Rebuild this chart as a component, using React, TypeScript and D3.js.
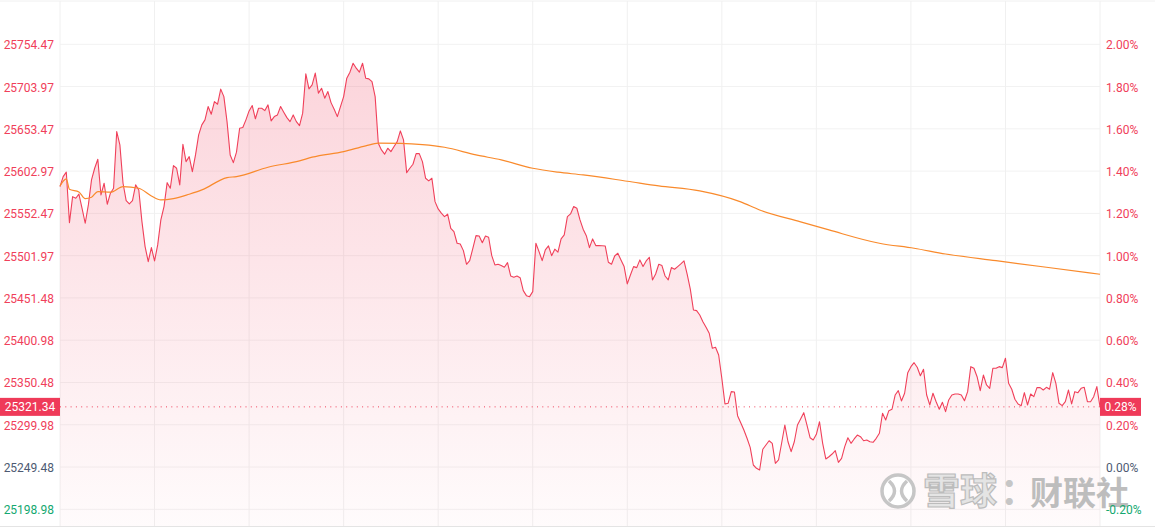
import React from "react";
import * as d3 from "d3";

const W = 1155;
const H = 528;

// Hang Seng index intraday, one value per trading minute (09:30-12:00, 13:00-16:00)
const prices: number[] = [
  25584.5, 25596.4, 25601.7, 25541.4, 25572.5, 25570.6, 25575.4, 25558.6, 25540.7, 25562.6,
  25592.5, 25606.4, 25617.2, 25574.5, 25588.5, 25563.4, 25576.6, 25582.5, 25650.2, 25634.3,
  25588.5, 25567.7, 25563.8, 25567.7, 25586.5, 25580.5, 25542.6, 25512.8, 25494.8, 25511.6,
  25495.7, 25514.8, 25544.7, 25560.6, 25589.2, 25582.5, 25609.6, 25606.4, 25586.5, 25635.1,
  25614.3, 25620.3, 25602.4, 25622.3, 25646.2, 25658.2, 25664.2, 25680.1, 25671.0, 25686.0,
  25682.9, 25700.9, 25692.0, 25662.1, 25622.3, 25613.1, 25625.6, 25654.2, 25655.0, 25664.2,
  25674.9, 25681.3, 25665.5, 25678.1, 25678.1, 25675.3, 25682.1, 25663.0, 25668.1, 25670.1,
  25680.1, 25673.4, 25666.9, 25662.1, 25670.1, 25662.1, 25657.4, 25672.2, 25719.1, 25701.2,
  25706.0, 25720.0, 25696.1, 25702.0, 25690.1, 25698.0, 25684.8, 25676.9, 25668.1, 25680.1,
  25692.0, 25714.0, 25721.2, 25731.9, 25725.9, 25721.2, 25731.9, 25714.0, 25713.2, 25709.9,
  25692.0, 25636.3, 25628.3, 25623.2, 25630.3, 25626.3, 25632.3, 25638.2, 25651.0, 25640.3,
  25601.2, 25606.4, 25611.2, 25623.9, 25623.9, 25614.3, 25594.5, 25591.3, 25594.5, 25566.5,
  25557.8, 25552.7, 25548.6, 25551.5, 25534.7, 25530.7, 25516.8, 25516.0, 25508.0, 25491.7,
  25496.0, 25510.8, 25525.9, 25525.5, 25517.5, 25525.5, 25524.0, 25502.0, 25490.9, 25491.7,
  25490.1, 25488.1, 25493.6, 25477.7, 25476.2, 25477.7, 25475.7, 25460.2, 25454.2, 25453.0,
  25459.0, 25516.8, 25506.8, 25496.0, 25508.8, 25513.6, 25502.0, 25509.7, 25506.1, 25522.0,
  25526.7, 25548.6, 25551.8, 25560.6, 25558.6, 25544.7, 25533.6, 25525.9, 25511.6, 25522.0,
  25514.0, 25514.0, 25513.9, 25513.6, 25494.1, 25491.7, 25501.6, 25504.9, 25496.9, 25488.9,
  25468.2, 25478.9, 25488.9, 25487.7, 25496.9, 25488.9, 25495.7, 25500.1, 25473.0, 25480.1,
  25491.7, 25490.1, 25477.7, 25473.0, 25487.7, 25485.8, 25488.9, 25492.1, 25495.7, 25480.0,
  25462.0, 25437.1, 25436.3, 25431.1, 25423.1, 25416.4, 25409.3, 25391.3, 25392.5, 25383.3,
  25355.5, 25324.8, 25325.6, 25339.5, 25339.1, 25310.8, 25302.4, 25293.7, 25283.8, 25273.0,
  25251.9, 25247.9, 25245.9, 25270.7, 25275.8, 25280.9, 25277.8, 25253.9, 25257.9, 25278.5,
  25299.7, 25279.7, 25267.8, 25279.7, 25299.7, 25306.9, 25314.4, 25299.7, 25284.5, 25281.8,
  25288.6, 25303.6, 25277.8, 25259.1, 25261.8, 25265.0, 25269.0, 25255.1, 25259.9, 25273.8,
  25284.5, 25277.8, 25283.0, 25287.7, 25285.7, 25280.9, 25281.8, 25279.7, 25279.0, 25283.8,
  25289.8, 25313.7, 25305.7, 25316.8, 25318.5, 25335.5, 25340.7, 25328.4, 25337.6, 25362.2,
  25369.4, 25374.1, 25368.6, 25358.6, 25366.3, 25335.5, 25323.6, 25337.6, 25327.5, 25318.5,
  25326.8, 25315.6, 25329.6, 25335.5, 25336.7, 25336.7, 25335.5, 25328.7, 25339.5, 25369.4,
  25367.4, 25357.4, 25340.7, 25359.4, 25347.5, 25343.5, 25367.4, 25367.4, 25369.4, 25368.2,
  25379.4, 25349.5, 25342.4, 25330.4, 25324.8, 25322.8, 25338.3, 25323.6, 25336.7, 25333.5,
  25344.3, 25344.3, 25341.5, 25344.7, 25342.4, 25362.2, 25349.5, 25325.6, 25322.8, 25327.5,
  25341.5, 25324.8, 25339.5, 25338.3, 25343.5, 25344.7, 25327.5, 25327.5, 25333.5, 25345.5,
  25321.34,
];

// average price line, read at these minutes
const avgMinutes: number[] = [
  0, 2, 3, 6, 8, 10, 12, 16, 20, 25, 29, 32, 36, 41, 45, 53, 56, 66, 76, 80, 90, 97, 101, 108,
  115, 122, 132, 140, 150, 158, 166, 180, 190, 203, 216, 222, 235, 244, 260, 271, 281, 297, 313, 330,
];
const avgPrices: number[] = [
  25585.3, 25593.7, 25581.4, 25578.1, 25570.1, 25571.8, 25578.5, 25577.8, 25584.5, 25582.5,
  25573.3, 25568.6, 25570.1, 25575.4, 25580.5, 25595.2, 25596.4, 25607.6, 25615.2, 25619.6,
  25626.3, 25633.1, 25636.3, 25636.0, 25634.6, 25631.5, 25622.3, 25616.4, 25606.4, 25601.7,
  25598.4, 25590.9, 25585.3, 25579.3, 25566.2, 25556.6, 25542.3, 25532.7, 25516.8, 25510.8,
  25504.0, 25496.0, 25488.1, 25479.8,
];

const prevClose = 25249.48;
const lastPrice = 25321.34;
const lastPctLabel = "0.28%";

const priceTicks: number[] = [
  25754.47, 25703.97, 25653.47, 25602.97, 25552.47, 25501.97, 25451.48, 25400.98, 25350.48,
  25299.98, 25249.48, 25198.98,
];
const pctTicks: string[] = [
  "2.00%", "1.80%", "1.60%", "1.40%", "1.20%", "1.00%", "0.80%", "0.60%", "0.40%", "0.20%",
  "0.00%", "-0.20%",
];
const timeGridMinutes: number[] = [0, 30, 60, 90, 120, 150, 180, 210, 240, 270, 300, 330];

const RED = "#f0405a";
const GREEN = "#14a870";
const GRAY = "#4d5a72";

export default function App() {
  const left = 60;
  const right = 1100;
  const top = 1;
  const bottom = 526;

  const x = d3.scaleLinear().domain([0, 330]).range([left, right]);
  const y = d3
    .scaleLinear()
    .domain([priceTicks[priceTicks.length - 1], priceTicks[0]])
    .range([509.3, 44.3]);

  const line = d3
    .line<number>()
    .x((_, i) => x(i))
    .y((d) => y(d));
  const area = d3
    .area<number>()
    .x((_, i) => x(i))
    .y0(bottom)
    .y1((d) => y(d));
  const avgLine = d3
    .line<number>()
    .x((_, i) => x(avgMinutes[i]))
    .y((d) => y(d))
    .curve(d3.curveMonotoneX);

  const colorFor = (v: number) =>
    Math.abs(v - prevClose) < 0.01 ? GRAY : v > prevClose ? RED : GREEN;

  const yLast = y(lastPrice);
  const font = "Roboto, Arial, sans-serif";
  const cjk = "'Noto Sans CJK SC', sans-serif";

  return (
    <svg
      width={W}
      height={H}
      style={{ position: "absolute", left: 0, top: 0, background: "#fff" }}
    >
      <defs>
        <linearGradient id="areaGrad" gradientUnits="userSpaceOnUse" x1="0" y1="60" x2="0" y2={bottom}>
          <stop offset="0" stopColor="#f03c5a" stopOpacity={0.22} />
          <stop offset="1" stopColor="#f03c5a" stopOpacity={0.02} />
        </linearGradient>
      </defs>

      {/* grid */}
      <line x1={0} x2={W} y1={top} y2={top} stroke="#f0f0f0" />
      {priceTicks.map((t) => (
        <line key={"h" + t} x1={left} x2={right} y1={y(t)} y2={y(t)} stroke="#f2f2f2" />
      ))}
      {timeGridMinutes.map((m) => (
        <line key={"v" + m} x1={x(m)} x2={x(m)} y1={top} y2={bottom} stroke="#f0f0f0" />
      ))}
      <line x1={0} x2={W} y1={bottom + 0.5} y2={bottom + 0.5} stroke="#e4e4e4" />

      {/* price area and line */}
      <path d={area(prices) || ""} fill="url(#areaGrad)" />
      <path d={line(prices) || ""} fill="none" stroke={RED} strokeWidth={1.1} strokeLinejoin="round" />
      <path d={avgLine(avgPrices) || ""} fill="none" stroke="#f98a2c" strokeWidth={1.2} />

      {/* last price dotted line */}
      <line
        x1={left}
        x2={right}
        y1={yLast}
        y2={yLast}
        stroke={RED}
        strokeWidth={1}
        strokeDasharray="1 4.3"
      />

      {/* watermark */}
      <g>
        <circle cx={898} cy={491} r={16} fill="#fff" stroke="#c6c6c6" strokeWidth={3.5} />
        <path d="M889,481 Q900,491 889,501" fill="none" stroke="#c6c6c6" strokeWidth={3.5} />
        <path d="M907,481 Q896,491 907,501" fill="none" stroke="#c6c6c6" strokeWidth={3.5} />
        <text
          x={923}
          y={505}
          fontFamily={cjk}
          fontSize={37}
          fontWeight={700}
          fill="#e4e4e4"
          stroke="#bcbcbc"
          strokeWidth={1.2}
        >
          雪球
        </text>
        <text x={1000} y={505} fontFamily={cjk} fontSize={37} fontWeight={700} fill="#c6c6c6">
          ：
        </text>
        <text x={1030} y={505} fontFamily={cjk} fontSize={33} fontWeight={700} fill="#bdbdbd">
          财联社
        </text>
      </g>

      {/* left axis labels */}
      {priceTicks.map((t) => (
        <text
          key={"l" + t}
          x={54}
          y={y(t) + 1}
          textAnchor="end"
          dominantBaseline="central"
          fontFamily={font}
          fontSize={12}
          fill={colorFor(t)}
        >
          {t.toFixed(2)}
        </text>
      ))}
      {/* right axis labels */}
      {priceTicks.map((t, i) => (
        <text
          key={"r" + t}
          x={1106}
          y={y(t) + 1}
          textAnchor="start"
          dominantBaseline="central"
          fontFamily={font}
          fontSize={12}
          fill={colorFor(t)}
        >
          {pctTicks[i]}
        </text>
      ))}

      {/* last price tags */}
      <rect x={0} y={yLast - 9} width={left} height={18} fill="#ef3a59" />
      <text
        x={left / 2}
        y={yLast + 0.5}
        textAnchor="middle"
        dominantBaseline="central"
        fontFamily={font}
        fontSize={12}
        fill="#fff"
      >
        {lastPrice.toFixed(2)}
      </text>
      <rect x={right} y={yLast - 9} width={41} height={18} fill="#ef3a59" />
      <text
        x={right + 20.5}
        y={yLast + 0.5}
        textAnchor="middle"
        dominantBaseline="central"
        fontFamily={font}
        fontSize={12}
        fill="#fff"
      >
        {lastPctLabel}
      </text>
    </svg>
  );
}
